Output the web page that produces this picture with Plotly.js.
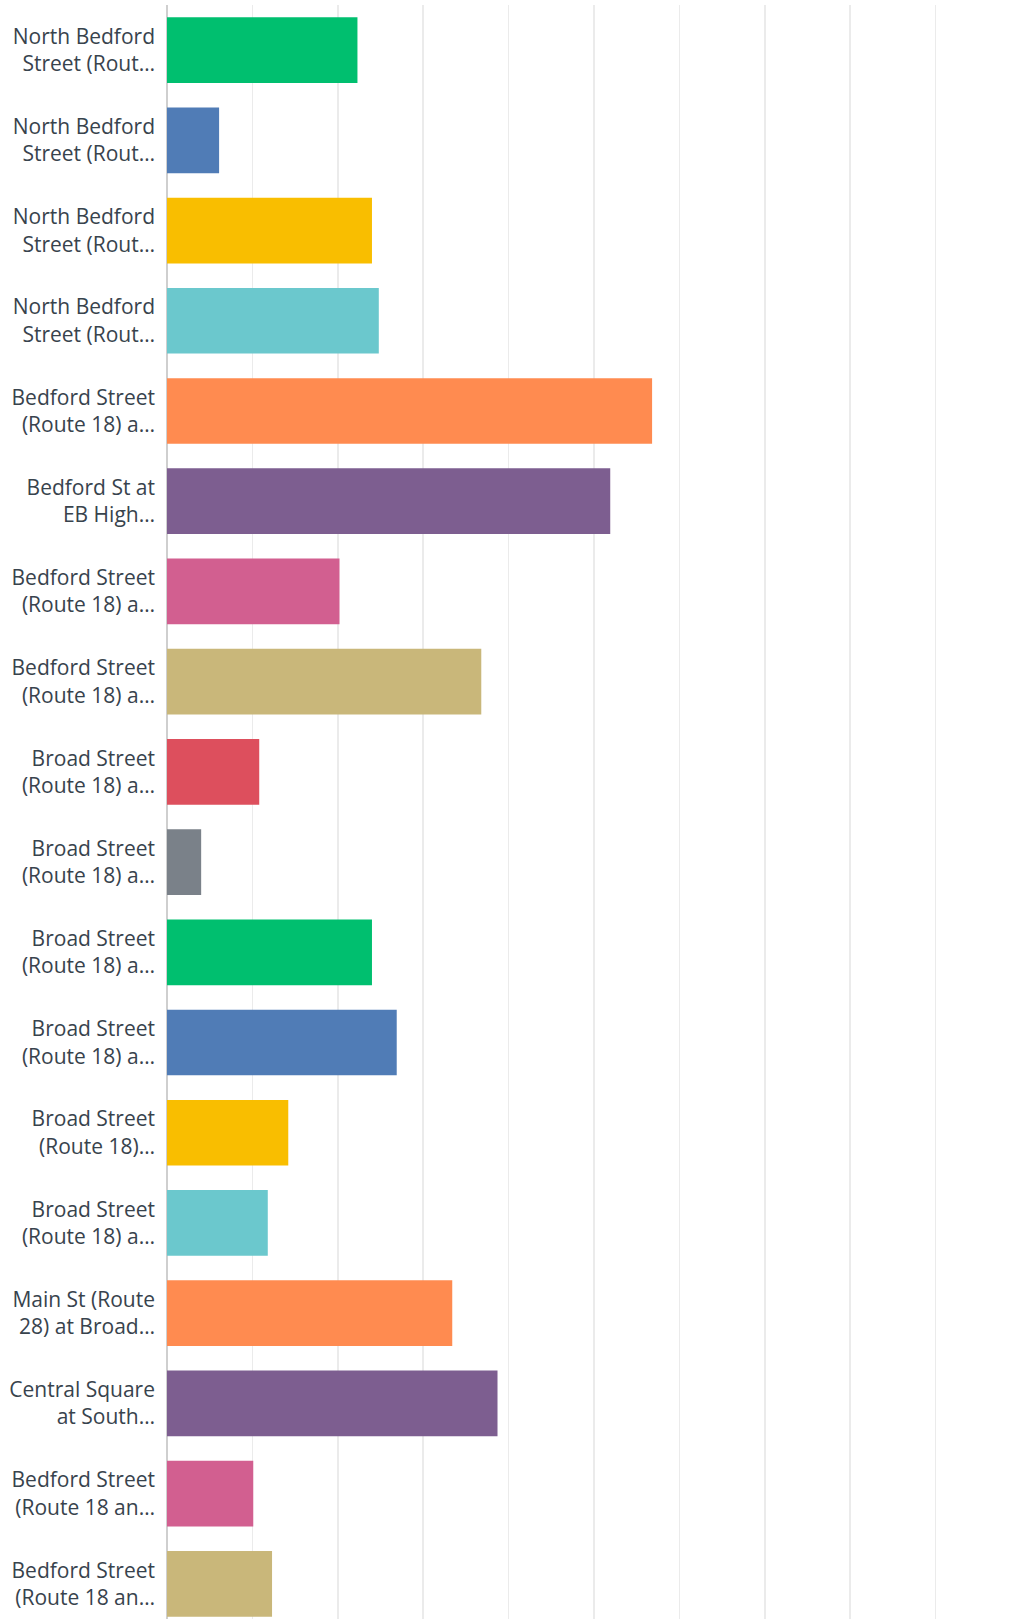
<!DOCTYPE html>
<html>
<head>
<meta charset="utf-8">
<script src="https://cdn.plot.ly/plotly-3.0.1.min.js"></script>
<style>
html,body{margin:0;padding:0;background:#fff;overflow:hidden;}
#chart{width:1013px;height:1619px;}
</style>
</head>
<body>
<div id="chart"></div>
<script>
const categories = [
  "North Bedford<br>Street (Rout…",
  "North Bedford<br>Street (Rout…",
  "North Bedford<br>Street (Rout…",
  "North Bedford<br>Street (Rout…",
  "Bedford Street<br>(Route 18) a…",
  "Bedford St at<br>EB High…",
  "Bedford Street<br>(Route 18) a…",
  "Bedford Street<br>(Route 18) a…",
  "Broad Street<br>(Route 18) a…",
  "Broad Street<br>(Route 18) a…",
  "Broad Street<br>(Route 18) a…",
  "Broad Street<br>(Route 18) a…",
  "Broad Street<br>(Route 18)…",
  "Broad Street<br>(Route 18) a…",
  "Main St (Route<br>28) at Broad…",
  "Central Square<br>at South…",
  "Bedford Street<br>(Route 18 an…",
  "Bedford Street<br>(Route 18 an…"
];
const values = [22.3, 6.1, 24.0, 24.8, 56.8, 51.9, 20.2, 36.8, 10.8, 4.0, 24.0, 26.9, 14.2, 11.8, 33.4, 38.7, 10.1, 12.3];
const colors = ["#00BF6F","#507CB6","#F9BE00","#6BC8CD","#FF8B50","#7D5E90","#D25F90","#C9B77A","#DD4F5D","#7A8189",
                "#00BF6F","#507CB6","#F9BE00","#6BC8CD","#FF8B50","#7D5E90","#D25F90","#C9B77A"];

const positions = categories.map((c, i) => i);

const trace = {
  type: 'bar',
  orientation: 'h',
  x: values,
  y: positions,
  marker: {color: colors},
  width: 0.728,
  hoverinfo: 'none'
};

const layout = {
  width: 1013,
  height: 1619,
  margin: {l: 167, r: 0, t: 5, b: 0},
  paper_bgcolor: '#fff',
  plot_bgcolor: '#fff',
  showlegend: false,
  font: {family: '"Open Sans", sans-serif', color: '#38434d', size: 21},
  xaxis: {
    range: [0, 99.06],
    dtick: 10,
    tick0: 0,
    showticklabels: false,
    showgrid: true,
    gridcolor: '#ebebeb',
    gridwidth: 1.5,
    zeroline: true,
    zerolinecolor: '#cfcfcf',
    zerolinewidth: 2,
    fixedrange: true
  },
  yaxis: {
    range: [17.39, -0.5],
    tickmode: 'array',
    tickvals: positions,
    ticktext: categories,
    ticks: '',
    ticklabelstandoff: 11,
    showgrid: false,
    zeroline: false,
    showline: false,
    tickfont: {family: '"Open Sans", sans-serif', size: 21, color: '#38434d'},
    fixedrange: true
  }
};

Plotly.newPlot('chart', [trace], layout, {displayModeBar: false, staticPlot: true});
</script>
</body>
</html>
